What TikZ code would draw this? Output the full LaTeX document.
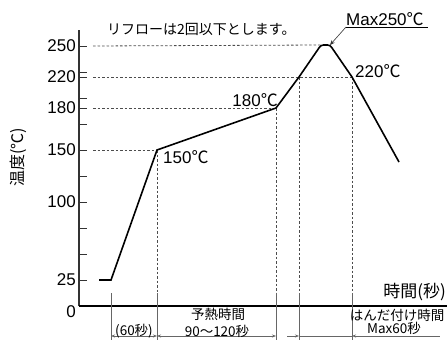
\documentclass[tikz,border=0pt]{standalone}
\usepackage{fontspec}
\setmainfont{Liberation Sans}
\newfontfamily\jp{Noto Sans CJK JP}
\usetikzlibrary{arrows.meta}
\newcommand\dgc{{\jp ℃}}

\begin{document}
\begin{tikzpicture}[x=1pt,y=-1pt,every node/.style={black,inner sep=0pt},
	num/.style={anchor=east,font=\fontsize{17}{17}\selectfont},
	big/.style={font=\fontsize{17}{17}\selectfont},
	note/.style={font=\jp\fontsize{14}{14}\selectfont},
	small/.style={font=\jp\fontsize{13.5}{14}\selectfont},
	guide/.style={black!70,line width=0.8pt,dash pattern=on 2.5pt off 2pt},
	extline/.style={black!60,line width=0.9pt},
	dimline/.style={black!60,line width=0.8pt,>={Stealth[length=4pt,width=3pt]}}]
	\useasboundingbox (0,0) rectangle (447,340);

%	axes, origin at (79,306), 25 degrees = 26
	\coordinate (o)    at (79,306);
	\coordinate (ytop) at (79,30);
	\coordinate (xend) at (447,306);

%	profile
	\coordinate (s0)    at (99,280);
	\coordinate (s1)    at (111,280);
	\coordinate (p150)  at (157,150);
	\coordinate (p180)  at (276,108);
	\coordinate (up220) at (299,77);
	\coordinate (pk1)   at (321,45);
	\coordinate (pk2)   at (330,45);
	\coordinate (dn220) at (352,77);
	\coordinate (fin)   at (399,162);

%	dimension line
	\coordinate (d0) at (111,336);
	\coordinate (d1) at (157,336);
	\coordinate (d2) at (276,336);
	\coordinate (d3) at (287,336);
	\coordinate (d4) at (299,336);
	\coordinate (d5) at (352,336);
	\coordinate (d6) at (440,336);

%	guides
	\draw[guide] (93,46)  -- (pk1);
	\draw[guide] (93,77)  -- (dn220);
	\draw[guide] (93,108) -- (p180);
	\draw[guide] (93,150) -- (p150);
	\draw[guide] (p150)  -- (p150 |- o);
	\draw[guide] (p180)  -- (p180 |- o);
	\draw[guide] (up220) -- (up220 |- o);
	\draw[guide] (dn220) -- (dn220 |- o);

%	ticks
	\draw[black!80,line width=1pt] (79,46)  -- ++(8,0);
	\draw[black!80,line width=1pt] (79,72)  -- ++(8,0);
	\draw[black!80,line width=1pt] (79,77)  -- ++(8,0);
	\draw[black!80,line width=1pt] (79,98)  -- ++(8,0);
	\draw[black!80,line width=1pt] (79,108) -- ++(8,0);
	\draw[black!80,line width=1pt] (79,124) -- ++(8,0);
	\draw[black!80,line width=1pt] (79,150) -- ++(8,0);
	\draw[black!80,line width=1pt] (79,176) -- ++(8,0);
	\draw[black!80,line width=1pt] (79,202) -- ++(8,0);
	\draw[black!80,line width=1pt] (79,228) -- ++(8,0);
	\draw[black!80,line width=1pt] (79,254) -- ++(8,0);
	\draw[black!80,line width=1pt] (79,280) -- ++(8,0);

	\draw[black!80,line width=1.2pt] (ytop) -- (o);
	\draw[line width=1.2pt] (o) -- (xend);

	\node[num] (n250) at (76,46)  {250};
	\node[num] (n220) at (76,77)  {220};
	\node[num] (n180) at (76,108) {180};
	\node[num] (n150) at (76,150) {150};
	\node[num] (n100) at (76,202) {100};
	\node[num] (n25)  at (76,280) {25};
	\node[num] (n0)   at (76,312) {0};

	\node[rotate=90,font=\jp\fontsize{16}{16}\selectfont] (ylab) at (18,157) {温度(℃)};
	\node[anchor=east,font=\jp\fontsize{17}{17}\selectfont] (xlab) at (446,292) {時間(秒)};

%	curve
	\draw[line width=1.6pt] (s0) -- (s1) -- (p150) -- (p180) -- (up220) [rounded corners=2.5pt] -- (pk1) -- (pk2) [sharp corners] -- (dn220) -- (fin);

	\node[big,anchor=west] (t150) at (163,157) {150\dgc};
	\node[big,anchor=east] (t180) at (278,100) {180\dgc};
	\node[big,anchor=west] (t220) at (355,71)  {220\dgc};
	\node[big,anchor=base west] (tmax) at (346,25) {Max250\dgc};
	\coordinate (ul1) at (346,27);
	\coordinate (ul2) at (428,27);
	\draw[line width=0.8pt] (ul1) -- (ul2);
	\draw[black!80,line width=0.6pt,-{Stealth[length=5pt,width=4pt]}] (ul1) -- (pk2);

	\node[note,anchor=west] (rule) at (107,29) {リフローは2回以下とします。};

%	extension lines
	\draw[extline] (111,293) -- (111,340);
	\draw[extline] (157,293) -- (157,340);
	\draw[extline] (276,293) -- (276,340);
	\draw[extline] (299,293) -- (299,340);
	\draw[extline] (352,293) -- (352,340);

	\draw[dimline,<->] (d0) -- (d1);
	\draw[dimline,<->] (d1) -- (d2);
	\draw[dimline,->] (d3) -- (d4);
	\draw[dimline] (d4) -- (d5);
	\draw[dimline,<-] (d5) -- (d6);

	\node[small] (t60)  at (134,331) {(60秒)};
	\node[small] (pre1) at (218,314) {予熱時間};
	\node[small] (pre2) at (217,331) {90〜120秒};
	\node[small] (sol1) at (397,315) {はんだ付け時間};
	\node[small] (sol2) at (394,328) {Max60秒};
\end{tikzpicture}
\end{document}
